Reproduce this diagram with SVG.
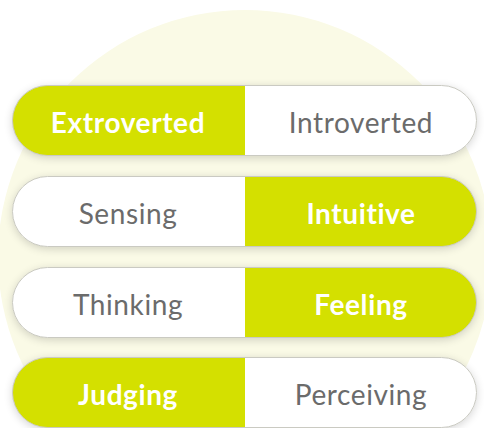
<svg xmlns="http://www.w3.org/2000/svg" width="484" height="428" viewBox="0 0 484 428">
<defs>
<filter id="sh" x="-10%" y="-40%" width="120%" height="180%">
<feGaussianBlur in="SourceAlpha" stdDeviation="5"/>
<feOffset dx="0" dy="2" result="b"/>
<feComponentTransfer><feFuncA type="linear" slope="0.18"/></feComponentTransfer>
<feMerge><feMergeNode/><feMergeNode in="SourceGraphic"/></feMerge>
</filter>
<clipPath id="c1"><rect x="12.5" y="85.5" width="464" height="70" rx="35" ry="35"/></clipPath>
<clipPath id="c2"><rect x="12.5" y="176.5" width="464" height="70" rx="35" ry="35"/></clipPath>
<clipPath id="c3"><rect x="12.5" y="267.5" width="464" height="70" rx="35" ry="35"/></clipPath>
<clipPath id="c4"><rect x="12.5" y="357.5" width="464" height="70" rx="35" ry="35"/></clipPath>
</defs>
<style>
.pill{fill:#ffffff;}
.bd{fill:none;stroke:#cacac2;stroke-width:1;}
.g{fill:#d4e000;}
.on,.off{font-family:Lato,"Liberation Sans",sans-serif;font-size:28px;text-anchor:middle;letter-spacing:0.6px;font-variant-ligatures:none;font-feature-settings:"liga" 0;}
.on{font-weight:700;fill:#ffffff;}
.off{font-weight:400;fill:#6b6b6b;}
</style>
<rect width="484" height="428" fill="#ffffff"/>
<circle cx="245" cy="257" r="247" fill="#fafae6"/>
<g id="row1">
<rect class="pill" x="12.5" y="85.5" width="464" height="70" rx="35" filter="url(#sh)"/>
<rect class="g" x="0" y="80" width="245" height="80" clip-path="url(#c1)"/>
<rect class="bd" x="12.5" y="85.5" width="464" height="70" rx="35"/>
<text class="on" x="128" y="133">Extroverted</text>
<text class="off" x="361" y="133">Introverted</text>
</g>
<g id="row2">
<rect class="pill" x="12.5" y="176.5" width="464" height="70" rx="35" filter="url(#sh)"/>
<rect class="g" x="245" y="170" width="240" height="80" clip-path="url(#c2)"/>
<rect class="bd" x="12.5" y="176.5" width="464" height="70" rx="35"/>
<text class="off" x="128" y="224">Sensing</text>
<text class="on" x="361" y="224">Intuitive</text>
</g>
<g id="row3">
<rect class="pill" x="12.5" y="267.5" width="464" height="70" rx="35" filter="url(#sh)"/>
<rect class="g" x="245" y="260" width="240" height="80" clip-path="url(#c3)"/>
<rect class="bd" x="12.5" y="267.5" width="464" height="70" rx="35"/>
<text class="off" x="128" y="315">Thinking</text>
<text class="on" x="361" y="315">Feeling</text>
</g>
<g id="row4">
<rect class="pill" x="12.5" y="357.5" width="464" height="70" rx="35" filter="url(#sh)"/>
<rect class="g" x="0" y="350" width="245" height="80" clip-path="url(#c4)"/>
<rect class="bd" x="12.5" y="357.5" width="464" height="70" rx="35"/>
<text class="on" x="128" y="405">Judging</text>
<text class="off" x="361" y="405">Perceiving</text>
</g>
<g id="connectors"/>
</svg>
